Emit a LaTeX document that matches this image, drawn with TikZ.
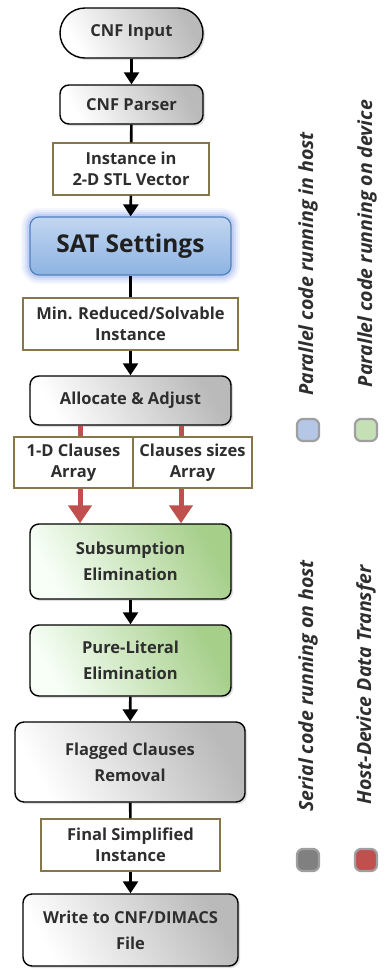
\documentclass[tikz,border=0pt]{standalone}
\usepackage{fontspec}
\setmainfont{Open Sans}
\usetikzlibrary{arrows.meta,shadows,calc}
\definecolor{frameol}{HTML}{86774A}
\definecolor{xfer}{HTML}{C0504D}
\definecolor{hostblue}{HTML}{B4C7E7}
\definecolor{devgreen}{HTML}{C5E0B4}
\definecolor{devgreendark}{HTML}{A6CF8A}
\definecolor{satlight}{HTML}{C2D6F0}
\definecolor{satdark}{HTML}{8DB3E2}
\definecolor{satedge}{HTML}{4F81BD}
\definecolor{serialgray}{HTML}{808080}
\definecolor{inktext}{HTML}{2E2E2E}
\tikzset{
  base/.style={draw=black, line width=1.4pt, align=center, font=\bfseries\fontsize{16.5}{26}\selectfont,
    text=inktext, inner sep=0pt},
  serial/.style={base, rounded corners=9pt, left color=white, right color=black!27, shading angle=120,
    drop shadow={shadow xshift=2pt, shadow yshift=-2pt, opacity=0.25}},
  device/.style={base, rounded corners=9pt, left color=green!3!white, right color=devgreendark, shading angle=120,
    drop shadow={shadow xshift=2pt, shadow yshift=-2pt, opacity=0.25}},
  data/.style={base, draw=frameol, line width=1.3pt, rounded corners=0pt, fill=white,
    font=\bfseries\fontsize{16.5}{21.5}\selectfont},
  arr/.style={line width=2.6pt, -{Triangle[width=15pt,length=12pt]}},
  ln/.style={line width=2.6pt},
  xarr/.style={line width=5pt, draw=xfer, -{Triangle[width=23pt,length=18pt]}},
  xln/.style={line width=5pt, draw=xfer},
  key/.style={draw=gray!75, line width=2.2pt, rounded corners=6pt, minimum width=22pt, minimum height=22pt, inner sep=0pt},
  keytext/.style={rotate=90, font=\bfseries\itshape\fontsize{19.5}{22}\selectfont, text=inktext}
}
\begin{document}
\begin{tikzpicture}[x=1pt,y=-1pt]
\useasboundingbox (0,0) rectangle (385,970);

% flow chart nodes
\node[serial, rounded corners=25pt, minimum width=143pt, minimum height=50pt] (in) at (131.5,33) {CNF Input};
\node[serial, minimum width=143pt, minimum height=39pt] (parser) at (131.5,104.5) {CNF Parser};
\node[data, minimum width=156pt, minimum height=52pt] (inst) at (131,169) {Instance in\\2-D STL Vector};

% glowing SAT settings box
\foreach \g/\o in {9/0.07,7/0.10,5/0.14,3/0.20}{
  \fill[satdark!80!blue, opacity=\o, rounded corners=9pt+\g pt]
    (30-\g,217-\g) rectangle (231+\g,275+\g);
}
\node[base, draw=satedge, line width=1.2pt, rounded corners=9pt, top color=satlight,
  bottom color=satdark, minimum width=201pt, minimum height=58pt,
  font=\bfseries\fontsize{24.5}{28}\selectfont, text=black!88] (sat) at (130.5,246) {SAT Settings};

\node[data, minimum width=215pt, minimum height=52pt] (minr) at (130.5,324) {Min. Reduced/Solvable\\Instance};
\node[serial, minimum width=201pt, minimum height=49pt] (alloc) at (130.5,400.5) {Allocate \& Adjust};
\node[data, minimum width=119pt, minimum height=51pt] (d1) at (73.5,462.5) {1-D Clauses\\Array};
\node[data, minimum width=119pt, minimum height=51pt] (d2) at (192.5,462.5) {Clauses sizes\\Array};
\node[device, minimum width=201pt, minimum height=75pt] (sub) at (130.5,561.5) {Subsumption\\Elimination};
\node[device, minimum width=201pt, minimum height=71pt] (pure) at (130.5,660.5) {Pure-Literal\\Elimination};
\node[serial, minimum width=230pt, minimum height=80pt] (flag) at (130,762) {Flagged Clauses\\Removal};
\node[data, minimum width=179pt, minimum height=52pt] (fin) at (130.5,845) {Final Simplified\\Instance};
\node[serial, minimum width=215pt, minimum height=72pt] (wr) at (130.5,930) {Write to CNF/DIMACS\\File};

% connectors
\draw[arr] (in) -- (parser);
\draw[ln] (parser) -- (inst);
\draw[arr] (inst) -- (sat);
\draw[ln] (sat) -- (minr);
\draw[arr] (minr) -- (alloc);
\draw[xln] ([xshift=-50.5pt]alloc.south) -- ([xshift=-50.5pt]alloc.south |- d1.north);
\draw[xln] ([xshift=50.5pt]alloc.south) -- ([xshift=50.5pt]alloc.south |- d2.north);
\draw[xarr] ([xshift=-50.5pt]alloc.south |- d1.south) -- ([xshift=-50.5pt]sub.north);
\draw[xarr] ([xshift=50.5pt]alloc.south |- d2.south) -- ([xshift=50.5pt]sub.north);
\draw[arr] (sub) -- (pure);
\draw[arr] (pure) -- (flag);
\draw[ln] (flag) -- (fin);
\draw[arr] (fin) -- (wr);

% legend
\node[key, fill=hostblue] (k1) at (308,430) {};
\node[key, fill=devgreen] (k2) at (366,430) {};
\node[key, fill=serialgray] (k3) at (308,860) {};
\node[key, fill=xfer] (k4) at (366,860) {};
\node[keytext] (t1) at (308,264) {Parallel code running in host};
\node[keytext] (t2) at (367,243.5) {Parallel code running on device};
\node[keytext] (t3) at (308,686) {Serial code running on host};
\node[keytext] (t4) at (366,685) {Host-Device Data Transfer};
\end{tikzpicture}
\end{document}
